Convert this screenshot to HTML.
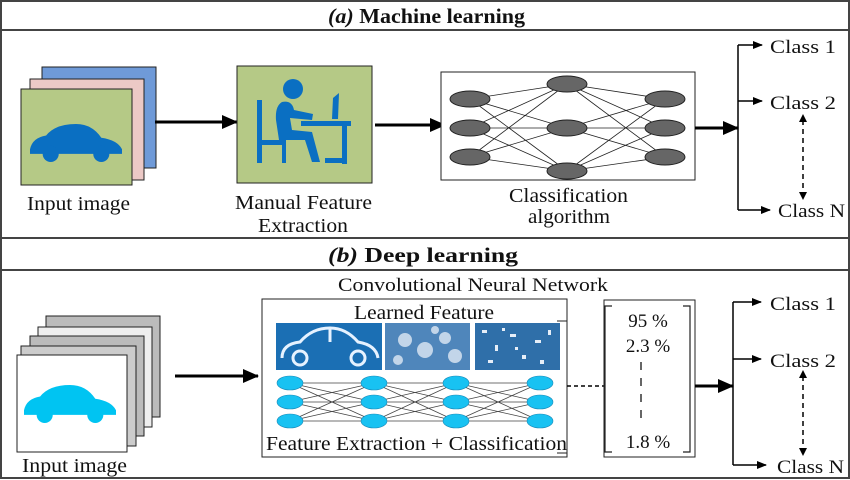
<!DOCTYPE html>
<html><head><meta charset="utf-8"><style>html,body{margin:0;padding:0;background:#fff}svg{display:block}text{font-family:"Liberation Serif",serif;fill:#111}</style></head>
<body>
<svg width="850" height="480" viewBox="0 0 850 480" xmlns="http://www.w3.org/2000/svg">
<defs>
<marker id="ah" markerWidth="10" markerHeight="8" refX="9" refY="4" orient="auto" markerUnits="userSpaceOnUse"><path d="M0,0 L10,4 L0,8z" fill="#000"/></marker>
<marker id="big" markerWidth="16" markerHeight="14" refX="15" refY="7" orient="auto" markerUnits="userSpaceOnUse"><path d="M0,0 L16,7 L0,14z" fill="#000"/></marker>
<g id="car"><path d="M0,22 Q2,12 14,10 Q22,0 40,0 Q54,0 62,12 Q76,14 80,22 L80,26 L0,26z"/><circle cx="18" cy="26" r="7"/><circle cx="62" cy="26" r="7"/></g>
</defs>
<rect x="1" y="1" width="848" height="477" fill="none" stroke="#444" stroke-width="2"/>
<line x1="0" y1="30" x2="850" y2="30" stroke="#444" stroke-width="2"/>
<line x1="0" y1="238" x2="850" y2="238" stroke="#444" stroke-width="2"/>
<line x1="0" y1="270" x2="850" y2="270" stroke="#444" stroke-width="2"/>
<text x="328" y="23" font-size="21" font-weight="bold" textLength="197" lengthAdjust="spacingAndGlyphs"><tspan font-style="italic">(a)</tspan> Machine learning</text>
<text x="328" y="262" font-size="21" font-weight="bold" textLength="190" lengthAdjust="spacingAndGlyphs"><tspan font-style="italic">(b)</tspan> Deep learning</text>

<!-- part a -->
<rect x="42" y="67" width="114" height="101" fill="#6f9ad8" stroke="#222"/>
<rect x="30" y="79" width="114" height="101" fill="#ecc9c6" stroke="#222"/>
<rect x="21" y="89" width="111" height="96" fill="#b5c986" stroke="#222"/>
<g fill="#0a6fc2" transform="translate(30,124) scale(1.15)"><use href="#car"/></g>
<text x="27" y="210" font-size="20" textLength="103" lengthAdjust="spacingAndGlyphs">Input image</text>
<line x1="155" y1="122" x2="237" y2="122" stroke="#000" stroke-width="3" marker-end="url(#big)"/>
<rect x="237" y="66" width="135" height="117" fill="#b5c986" stroke="#222"/>
<g fill="#0a6fc2">
<circle cx="293" cy="89" r="10"/>
<path d="M282,102 Q275,106 276,120 L279,140 L305,140 L312,162 L320,162 L312,132 L292,130 L290,118 L312,120 L313,114 L294,110 Q292,100 282,102z"/>
<rect x="257" y="100" width="5" height="63"/><rect x="262" y="140" width="24" height="5"/><rect x="282" y="143" width="4" height="20"/>
<rect x="301" y="121" width="50" height="5"/><rect x="342" y="126" width="5" height="38"/><rect x="325" y="158" width="20" height="5"/>
<path d="M333,98 L339,93 L338,119 L332,119z"/>
</g>
<text x="235" y="209" font-size="20" textLength="137" lengthAdjust="spacingAndGlyphs">Manual Feature</text>
<text x="258" y="232" font-size="20" textLength="90" lengthAdjust="spacingAndGlyphs">Extraction</text>
<line x1="375" y1="125" x2="445" y2="125" stroke="#000" stroke-width="3" marker-end="url(#big)"/>
<rect x="441" y="72" width="254" height="108" fill="#fff" stroke="#222"/>
<g stroke="#222" stroke-width="0.8">
<path d="M470,99L567,84M470,99L567,128M470,99L567,171M470,128L567,84M470,128L567,128M470,128L567,171M470,157L567,84M470,157L567,128M470,157L567,171"/>
<path d="M665,99L567,84M665,99L567,128M665,99L567,171M665,128L567,84M665,128L567,128M665,128L567,171M665,157L567,84M665,157L567,128M665,157L567,171"/>
</g>
<g fill="#666" stroke="#222"><ellipse cx="470" cy="99" rx="20" ry="8"/><ellipse cx="470" cy="128" rx="20" ry="8"/><ellipse cx="470" cy="157" rx="20" ry="8"/>
<ellipse cx="567" cy="84" rx="20" ry="8"/><ellipse cx="567" cy="128" rx="20" ry="8"/><ellipse cx="567" cy="171" rx="20" ry="8"/>
<ellipse cx="665" cy="99" rx="20" ry="8"/><ellipse cx="665" cy="128" rx="20" ry="8"/><ellipse cx="665" cy="157" rx="20" ry="8"/></g>
<text x="509" y="202" font-size="20" textLength="119" lengthAdjust="spacingAndGlyphs">Classification</text>
<text x="528" y="223" font-size="20" textLength="82" lengthAdjust="spacingAndGlyphs">algorithm</text>
<line x1="695" y1="128" x2="738" y2="128" stroke="#000" stroke-width="3" marker-end="url(#big)"/>
<line x1="738" y1="45" x2="738" y2="210" stroke="#000" stroke-width="1.5"/>
<line x1="738" y1="45" x2="762" y2="45" stroke="#000" stroke-width="1.5" marker-end="url(#ah)"/>
<line x1="738" y1="101" x2="762" y2="101" stroke="#000" stroke-width="1.5" marker-end="url(#ah)"/>
<line x1="738" y1="210" x2="770" y2="210" stroke="#000" stroke-width="1.5" marker-end="url(#ah)"/>
<text x="770" y="53" font-size="19" textLength="66" lengthAdjust="spacingAndGlyphs">Class 1</text>
<text x="770" y="109" font-size="19" textLength="66" lengthAdjust="spacingAndGlyphs">Class 2</text>
<text x="778" y="217" font-size="19" textLength="67" lengthAdjust="spacingAndGlyphs">Class N</text>
<line x1="803" y1="120" x2="803" y2="194" stroke="#000" stroke-width="1.5" stroke-dasharray="5,4"/>
<path d="M799,122 L803,114 L807,122z M799,192 L803,200 L807,192z" fill="#000"/>

<!-- part b -->
<rect x="46" y="316" width="114" height="101" fill="#bbb" stroke="#222"/>
<rect x="38" y="327" width="114" height="100" fill="#eee" stroke="#222"/>
<rect x="30" y="336" width="114" height="100" fill="#bbb" stroke="#222"/>
<rect x="21" y="346" width="115" height="100" fill="#ccc" stroke="#222"/>
<rect x="17" y="355" width="110" height="97" fill="#fff" stroke="#222"/>
<g fill="#00c4f2" transform="translate(24,385) scale(1.15)"><use href="#car"/></g>
<text x="22" y="472" font-size="20" textLength="105" lengthAdjust="spacingAndGlyphs">Input image</text>
<line x1="175" y1="376" x2="258" y2="376" stroke="#000" stroke-width="3" marker-end="url(#big)"/>
<text x="338" y="291" font-size="19" textLength="270" lengthAdjust="spacingAndGlyphs">Convolutional Neural Network</text>
<rect x="262" y="299" width="305" height="158" fill="#fff" stroke="#222"/>
<text x="354" y="319" font-size="20" textLength="140" lengthAdjust="spacingAndGlyphs">Learned Feature</text>
<rect x="276" y="323" width="106" height="47" fill="#1b6fb4"/>
<g fill="none" stroke="#e6f2ff" stroke-width="3"><path d="M282,358 Q282,344 300,342 Q312,328 330,328 Q346,328 358,342 Q376,345 378,358"/><circle cx="300" cy="358" r="7" fill="#1b6fb4"/><circle cx="358" cy="358" r="7" fill="#1b6fb4"/><line x1="330" y1="328" x2="330" y2="342"/></g>
<rect x="385" y="323" width="85" height="47" fill="#4f86bb"/>
<g fill="#dfe9f5" opacity="0.8"><circle cx="405" cy="340" r="7"/><circle cx="425" cy="350" r="8"/><circle cx="445" cy="338" r="6"/><circle cx="455" cy="356" r="7"/><circle cx="398" cy="360" r="5"/><circle cx="435" cy="330" r="4"/></g>
<rect x="475" y="323" width="85" height="47" fill="#2f6fa9"/>
<g fill="#e6eef8"><rect x="482" y="330" width="5" height="3"/><rect x="495" y="345" width="3" height="6"/><rect x="510" y="334" width="6" height="3"/><rect x="522" y="355" width="4" height="4"/><rect x="535" y="340" width="6" height="3"/><rect x="548" y="330" width="3" height="5"/><rect x="488" y="360" width="5" height="3"/><rect x="540" y="360" width="4" height="4"/><rect x="515" y="347" width="3" height="3"/><rect x="502" y="328" width="3" height="3"/></g>
<g stroke="#444" stroke-width="0.8">
<path d="M290,383L374,383M290,383L374,402M290,383L374,421M290,402L374,383M290,402L374,402M290,402L374,421M290,421L374,383M290,421L374,402M290,421L374,421"/>
<path d="M374,383L456,383M374,383L456,402M374,383L456,421M374,402L456,383M374,402L456,402M374,402L456,421M374,421L456,383M374,421L456,402M374,421L456,421"/>
<path d="M456,383L540,383M456,383L540,402M456,383L540,421M456,402L540,383M456,402L540,402M456,402L540,421M456,421L540,383M456,421L540,402M456,421L540,421"/>
</g>
<g fill="#18c2f2" stroke="#1a8ab8" stroke-width="0.6">
<ellipse cx="290" cy="383" rx="13" ry="7"/><ellipse cx="290" cy="402" rx="13" ry="7"/><ellipse cx="290" cy="421" rx="13" ry="7"/>
<ellipse cx="374" cy="383" rx="13" ry="7"/><ellipse cx="374" cy="402" rx="13" ry="7"/><ellipse cx="374" cy="421" rx="13" ry="7"/>
<ellipse cx="456" cy="383" rx="13" ry="7"/><ellipse cx="456" cy="402" rx="13" ry="7"/><ellipse cx="456" cy="421" rx="13" ry="7"/>
<ellipse cx="540" cy="383" rx="13" ry="7"/><ellipse cx="540" cy="402" rx="13" ry="7"/><ellipse cx="540" cy="421" rx="13" ry="7"/></g>
<text x="266" y="450" font-size="20" textLength="301" lengthAdjust="spacingAndGlyphs">Feature Extraction + Classification</text>
<path d="M557,321 L567,321 L567,453 L557,453" fill="none" stroke="#222"/>
<line x1="567" y1="386" x2="604" y2="386" stroke="#000" stroke-width="1.5" stroke-dasharray="4,3"/>
<rect x="604" y="300" width="91" height="157" fill="none" stroke="#222"/>
<path d="M612,306 L605,306 L605,452 L612,452 M683,306 L690,306 L690,452 L683,452" fill="none" stroke="#222" stroke-width="1.2"/>
<text x="648" y="327" text-anchor="middle" font-size="19">95 %</text>
<text x="648" y="352" text-anchor="middle" font-size="19">2.3 %</text>
<line x1="641" y1="362" x2="641" y2="425" stroke="#000" stroke-width="1.2" stroke-dasharray="8,8"/>
<text x="648" y="448" text-anchor="middle" font-size="19">1.8 %</text>
<line x1="695" y1="386" x2="733" y2="386" stroke="#000" stroke-width="3" marker-end="url(#big)"/>
<line x1="733" y1="302" x2="733" y2="465" stroke="#000" stroke-width="1.5"/>
<line x1="733" y1="302" x2="761" y2="302" stroke="#000" stroke-width="1.5" marker-end="url(#ah)"/>
<line x1="733" y1="359" x2="761" y2="359" stroke="#000" stroke-width="1.5" marker-end="url(#ah)"/>
<line x1="733" y1="465" x2="766" y2="465" stroke="#000" stroke-width="1.5" marker-end="url(#ah)"/>
<text x="770" y="310" font-size="19" textLength="66" lengthAdjust="spacingAndGlyphs">Class 1</text>
<text x="770" y="367" font-size="19" textLength="66" lengthAdjust="spacingAndGlyphs">Class 2</text>
<text x="777" y="473" font-size="19" textLength="67" lengthAdjust="spacingAndGlyphs">Class N</text>
<line x1="803" y1="376" x2="803" y2="450" stroke="#000" stroke-width="1.5" stroke-dasharray="5,4"/>
<path d="M799,378 L803,370 L807,378z M799,448 L803,456 L807,448z" fill="#000"/>
</svg>
</body></html>
